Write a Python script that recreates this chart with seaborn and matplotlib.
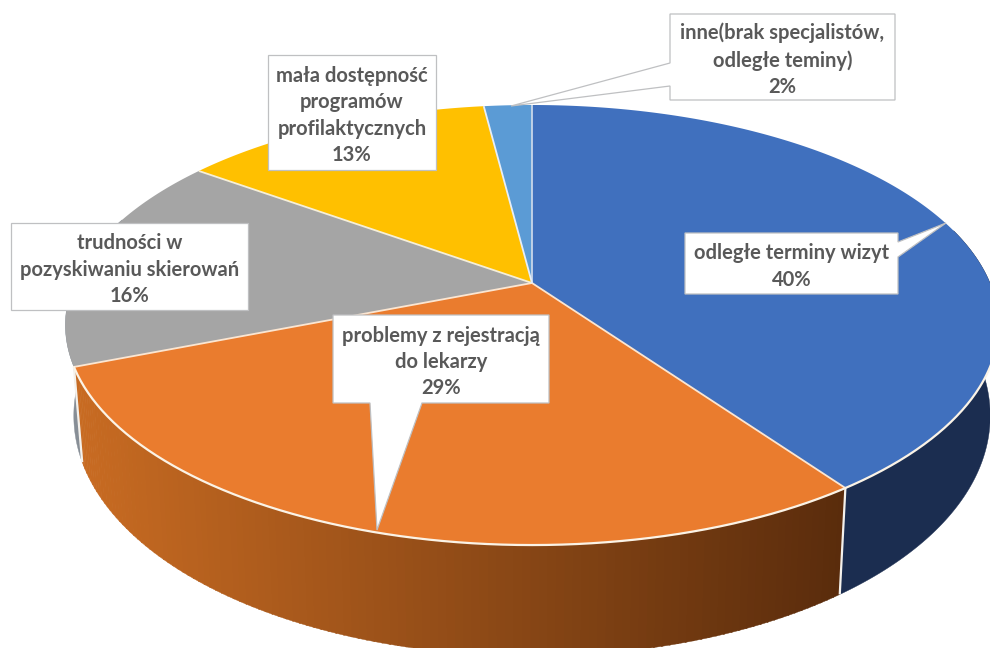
import numpy as np
import pandas as pd
import matplotlib
matplotlib.use("Agg")
import matplotlib.pyplot as plt
import seaborn as sns

# ---- data ----
# sizes; the labels show them rounded
categories = ["odległe terminy wizyt", "problemy z rejestracją\ndo lekarzy",
              "trudności w\npozyskiwaniu skierowań",
              "mała dostępność\nprogramów\nprofilaktycznych",
              "inne(brak specjalistów,\nodległe teminy)"]
shares = [40.2, 28.8, 16.0, 13.0, 2.0]
top_colors = ["#4070BE", "#EA7C2E", "#A5A5A5", "#FFC000", "#5B9BD5"]

df = pd.DataFrame({"category": categories, "share": shares})

sns.set_theme(style="white")
plt.rcParams["font.family"] = ["Lato", "DejaVu Sans"]
palette = sns.color_palette(top_colors)

fig, ax = plt.subplots(figsize=(9.9, 6.48), dpi=100)
ax.set_position([0, 0, 1, 1])
ax.set_xlim(0, 990)
ax.set_ylim(648, 0)
ax.axis("off")

# perspective projection of the pie's circle on to the page
CX, CY, R, H, K = 532, 283, 458, 212, 0.191

def top(t):
    x, y = np.sin(np.radians(t)), np.cos(np.radians(t))
    w = 1 + K * y
    return CX + R * x / w, CY - H * y / w

def bottom(t):
    X, Y = top(t)
    y = np.cos(np.radians(t))
    return X + 0.018 * (CX - X), Y + 86 - 25 * y

def arc(fn, a, b):
    n = max(int(abs(b - a) * 2), 2)
    return fn(np.linspace(a, b, n))

edges = np.concatenate([[0], np.cumsum(df["share"].to_numpy()) * 360 / df["share"].sum()])

# ---- side walls ----
blue_a, blue_b = edges[0], edges[1]
orange_a, orange_b = edges[1], edges[2]
gray_a = edges[2]

def wall(a, b, color):
    xt, yt = arc(top, a, b)
    xb, yb = arc(bottom, a, b)
    ax.fill(np.r_[xt, xb[::-1]], np.r_[yt, yb[::-1]], color=color, lw=0.3, zorder=1)

wall(75, blue_b, "#1B2D50")
wall(gray_a, gray_a + 40, "#878E96")

dark = np.array(matplotlib.colors.to_rgb("#5A2C0C"))
light = np.array(matplotlib.colors.to_rgb("#C86B22"))
steps = np.linspace(orange_a, orange_b, 121)
for a, b in zip(steps[:-1], steps[1:]):
    xm, _ = top((a + b) / 2)
    f = np.clip((xm - 76) / (845 - 76), 0, 1)
    wall(a, b + 0.15, tuple(light + (dark - light) * f))

# seams between the walls
for t in (orange_a, orange_b):
    xt, yt = top(t)
    xb, yb = bottom(t)
    ax.plot([xt, xb], [yt, yb], color="#F4F1EC", lw=1.6, zorder=2, solid_capstyle="butt")

# ---- top faces ----
for a, b, c in zip(edges[:-1], edges[1:], palette):
    xs, ys = arc(top, a, b)
    ax.fill(np.r_[CX, xs], np.r_[CY, ys], color=c, lw=0, zorder=3)

# radial separators
for t, col in zip(edges[:-1], ["#C9D6EA", "#FBE6D2", "#FBE6D2", "#F6EFD8", "#E6EEF7"]):
    xt, yt = top(t)
    ax.plot([CX, xt], [CY, yt], color=col, lw=1.3, zorder=4, solid_capstyle="butt")

# bright rim along the front
xr, yr = arc(top, 101, orange_b)
ax.plot(xr, yr, color="#FBF3E6", lw=1.6, zorder=4)

# ---- data labels ----
BOX_EDGE = "#BFC0C2"
TEXT = "#595959"

# (left, top, right, bottom) of each callout and its tail outline
boxes = {
    0: ((685, 233, 898, 294), [(898, 242), (946, 223), (898, 257)], "right"),
    1: ((333, 315, 549, 403), [(422, 403), (377, 530), (370, 403)], "bottom"),
    2: ((11, 223, 248, 310), None, None),
    3: ((268, 55, 436, 170), None, None),
    4: ((670, 14, 895, 100), [(670, 63), (511, 106), (670, 86)], "left"),
}

def callout(l, t, r, b, tail, side):
    if side == "left":
        pts = [(l, t), (r, t), (r, b), (l, b)] + tail[::-1]
    elif side == "right":
        pts = [(l, t), (r, t)] + tail + [(r, b), (l, b)]
    elif side == "bottom":
        pts = [(l, t), (r, t), (r, b)] + tail + [(l, b)]
    else:
        pts = [(l, t), (r, t), (r, b), (l, b)]
    xs, ys = zip(*pts)
    ax.fill(xs, ys, facecolor="white", edgecolor=BOX_EDGE, lw=0.9, zorder=5)

for i, row in df.iterrows():
    (l, t, r, b), tail, side = boxes[i]
    callout(l, t, r, b, tail, side)
    ax.text((l + r) / 2, (t + b) / 2 + 3, f"{row['category']}\n{round(row['share'])}%",
            ha="center", va="center", fontsize=14.5, fontweight="bold",
            color=TEXT, linespacing=1.4, zorder=6)

fig.savefig("out.png", dpi=100, facecolor="white")
